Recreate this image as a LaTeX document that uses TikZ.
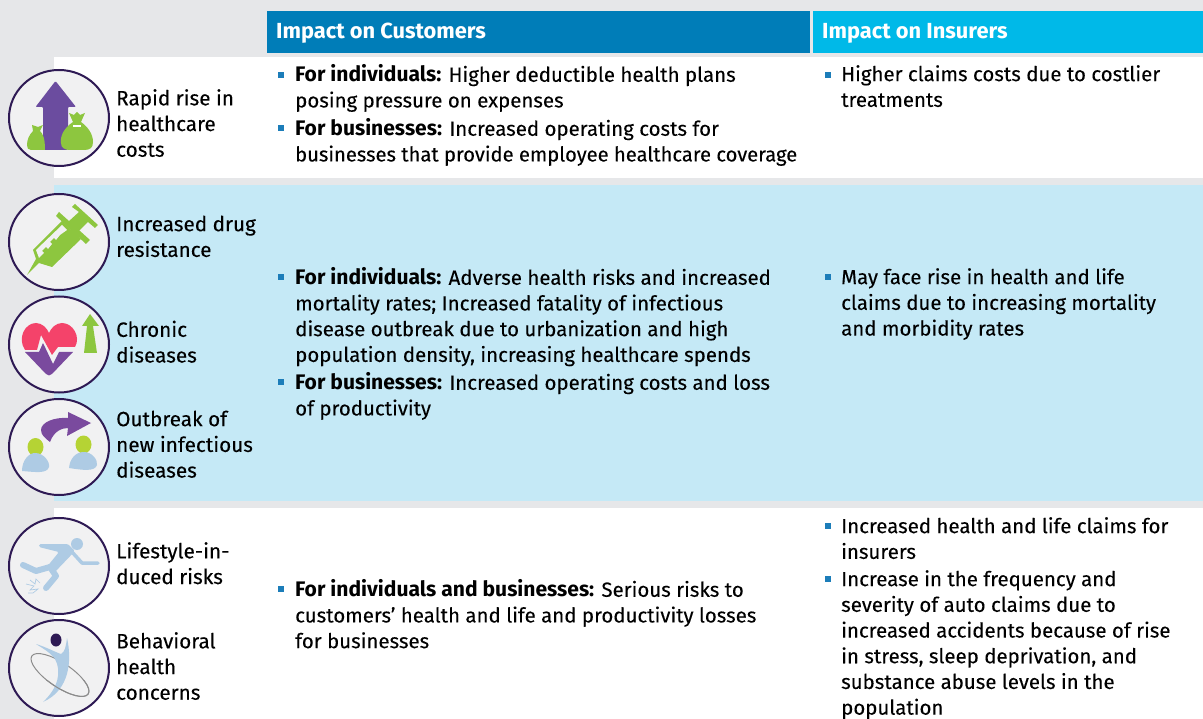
\documentclass[tikz,border=0pt]{standalone}
\usepackage{fontspec}
\usepackage{graphicx}
\usetikzlibrary{shapes.geometric}
\setmainfont{Fira Sans}[BoldFeatures={Scale=1.03},UprightFeatures={FakeBold=0.12}]
\definecolor{pagegrey}{HTML}{E6E7E9}
\definecolor{headdark}{HTML}{007DB8}
\definecolor{headlight}{HTML}{00B9E8}
\definecolor{bandblue}{HTML}{C5E9F6}
\definecolor{ringcol}{HTML}{2E1A54}
\definecolor{ringfill}{HTML}{F1F1F2}
\definecolor{icongreen}{HTML}{8DC63F}
\definecolor{iconpurple}{HTML}{6B4C9F}
\definecolor{iconpink}{HTML}{F4436A}
\definecolor{iconviolet}{HTML}{7A4A9E}
\definecolor{iconlime}{HTML}{B5D334}
\definecolor{iconblue}{HTML}{AECBE4}
\definecolor{bulletcol}{HTML}{1C7DB9}
\tikzset{
  x=1pt,y=-1pt,
  ring/.style={ellipse,draw=ringcol,fill=ringfill,line width=2pt,minimum width=100pt,minimum height=96pt,inner sep=0pt},
  headtext/.style={anchor=base west,text=white,font=\fontsize{21.2}{24}\selectfont\bfseries,inner sep=0pt},
  rowlabel/.style={anchor=north west,align=left,text=black,inner sep=0pt,font=\fontsize{20.7}{25.7}\selectfont},
  bodytext/.style={anchor=north west,align=left,text=black,inner sep=0pt,font=\fontsize{20.45}{25.7}\selectfont},
  bulletmark/.style={fill=bulletcol,minimum size=6.5pt,inner sep=0pt,draw=none,rectangle},
  hoopline/.style={black!45,line width=1pt,rotate around={-34:(60,675)}},
}
\newcommand{\blt}[2]{\node[bulletmark] at (#1,#2) {};}
\begin{document}
\begin{tikzpicture}
\useasboundingbox (0,0) rectangle (1203,719);
\fill[pagegrey] (0,0) rectangle (1203,719);
\fill[headdark] (267,11) rectangle (810,53);
\fill[headlight] (813,11) rectangle (1203,53);
\fill[white] (54,57) rectangle (1203,178);
\fill[bandblue] (54,185) rectangle (1203,501);
\fill[white] (54,508) rectangle (1203,719);
\node[headtext] (hc) at (276,39) {Impact on Customers};
\node[headtext] (hi) at (822,39) {Impact on Insurers};
% rings
\node[ring] (r1) at (59,118) {};
\node[ring] (r2) at (59,242) {};
\node[ring] (r3) at (59,344.5) {};
\node[ring] (r4) at (59,447) {};
\node[ring] (r5) at (59,566) {};
\node[ring] (r6) at (59,668) {};
% icon 1: arrow and bags
\fill[iconpurple,rounded corners=1pt] (55.5,81) -- (76,107) -- (68,107) -- (68,150) -- (43,150) -- (43,107) -- (35.5,107) -- cycle;
\fill[icongreen] (33,131) -- (32,125) -- (38,127) -- (43,125) -- (40,131) .. controls (43,134) and (45,138) .. (45,150) -- (31,150) .. controls (28,150) and (27,148) .. (27,145) .. controls (27,140) and (29,135) .. (33,131) -- cycle;
\fill[icongreen] (73,122) -- (69,113) -- (74,115) -- (77,112) -- (80,115) -- (85,113) -- (81,122) .. controls (88,127) and (93,134) .. (93,142) .. controls (93,148) and (90,150) .. (84,150) -- (70,150) .. controls (65,150) and (61,148) .. (61,143) .. controls (60,136) and (64,128) .. (73,122) -- cycle;
\fill[white] (73,125) rectangle (81,127);
% icon 2: syringe
\fill[icongreen] (75,204) -- (98,225) -- (95,228) -- (88,222) -- (78,232) -- (68,222) -- (79,212) -- (72,207) -- cycle;
\fill[icongreen] (59,212) -- (90,240) -- (86,244) -- (56,216) -- cycle;
\fill[icongreen] (62,221) -- (81,239) -- (52,267) -- (39,263) -- (27,275) -- (36,259) -- (33,250) -- cycle;
\fill[ringfill] (62,225) -- (36,250) -- (39,258) -- (44,253) -- (42,251) -- (46,247) -- (48,249) -- (52,244) -- (50,242) -- (54,238) -- (56,240) -- (60,235) -- (67,230) -- cycle;
% icon 3: heart and arrow
\fill[iconpink] (25,350) -- (37,350) -- (41,335) -- (52,355) -- (58,347) -- (75,347) .. controls (81,337) and (73,323) .. (62,323) .. controls (56,323) and (51,328) .. (49,333) .. controls (47,328) and (42,323) .. (36,323) .. controls (25,323) and (17,338) .. (25,350) -- cycle;
\fill[iconviolet] (25,352) -- (39,352) -- (43,343) -- (53,364) -- (59,352) -- (73,352) -- (52,374) .. controls (50,376) and (48,376) .. (46,374) -- cycle;
\fill[icongreen] (90,314) -- (99,326) -- (93,326) -- (97,353) -- (84,353) -- (87,326) -- (82,326) -- cycle;
% icon 4: people and arrow
\fill[iconviolet] (91,423) -- (67,436) -- (68,428) .. controls (62,428) and (54,431) .. (50,442) .. controls (45,438) and (41,435) .. (41,430) .. controls (41,422) and (55,417) .. (68,418) -- (68,412) -- cycle;
\fill[iconlime] (35.5,447) ellipse (8 and 9);
\fill[iconlime] (83.5,444.5) ellipse (8 and 9);
\fill[iconblue] (22,471) .. controls (22,460) and (29,453) .. (35,453) .. controls (44,453) and (50,462) .. (49,467) .. controls (47,474) and (35,472) .. (22,471) -- cycle;
\fill[iconblue] (69,468) .. controls (70,458) and (76,452) .. (84,452) .. controls (92,452) and (98,460) .. (97,465) .. controls (95,472) and (82,470) .. (69,468) -- cycle;
% icon 5: falling figure
\fill[iconblue] (77,544) circle (6);
\fill[iconblue,rounded corners=1.5pt] (39,544) -- (68,544) -- (75,551) -- (54,573) -- (46,568) -- (59,552) -- (39,547) -- cycle;
\draw[iconblue,line width=6pt,line cap=round,line join=round] (50,567) -- (36,571) -- (23,565);
\draw[iconblue,line width=6pt,line cap=round,line join=round] (50,567) -- (56,576) -- (46,588);
\draw[iconblue,line width=3.5pt,line cap=round,line join=round] (72,552) -- (82,563) -- (98,563);
\draw[iconblue,line width=.7pt] (26,584) -- (34,586) -- (30,590) -- (38,589) -- (33,593) -- (28,593);
\draw[iconblue,line width=.7pt] (30,580) -- (35,584) -- (36,579) -- (40,583);
% icon 6: figure and hoop
\draw[hoopline] (60,675) ellipse (34 and 12);
\fill[iconblue] (36,644) .. controls (46,647) and (55,652) .. (61,654) .. controls (65,652) and (66,646) .. (67,638) .. controls (72,660) and (70,690) .. (43,702) .. controls (58,688) and (62,672) .. (55,659) .. controls (50,652) and (42,648) .. (36,644) -- cycle;
\begin{scope}
\clip (30,680) rectangle (90,700);
\draw[hoopline] (60,675) ellipse (34 and 12);
\end{scope}
\fill[ringcol] (56,640) ellipse (5.5 and 6.5);
% row labels
\node[rowlabel] (l1) at (116,89) {Rapid rise in\\healthcare\\costs};
\node[rowlabel] (l2) at (116,215.5) {Increased drug\\resistance};
\node[rowlabel] (l3) at (116,320.5) {Chronic\\diseases};
\node[rowlabel] (l4) at (116,410.5) {Outbreak of\\new infectious\\diseases};
\node[rowlabel] (l5) at (116,542) {Lifestyle-in-\\duced risks};
\node[rowlabel] (l6) at (116,632) {Behavioral\\health\\concerns};
% body
\blt{281}{75}
\node[bodytext] (a1) at (295,64.5) {\textbf{For individuals:} Higher deductible health plans\\posing pressure on expenses};
\blt{281}{128}
\node[bodytext] (a2) at (295,118.5) {\textbf{For businesses:} Increased operating costs for\\\resizebox{502pt}{\height}{businesses that provide employee healthcare coverage}};
\blt{828}{75}
\node[bodytext] (b1) at (841,65) {Higher claims costs due to costlier\\treatments};
\blt{281}{277}
\node[bodytext] (a3) at (295,267.5) {\textbf{For individuals:} Adverse health risks and increased\\mortality rates; Increased fatality of infectious\\disease outbreak due to urbanization and high\\population density, increasing healthcare spends};
\blt{281}{382}
\node[bodytext] (a4) at (295,372.5) {\textbf{For businesses:} Increased operating costs and loss\\of productivity};
\blt{828}{277}
\node[bodytext] (b2) at (841,268) {May face rise in health and life\\claims due to increasing mortality\\and morbidity rates};
\blt{281}{589}
\node[bodytext] (a5) at (295,579.5) {\textbf{For individuals and businesses:} Serious risks to\\customers’ health and life and productivity losses\\for businesses};
\blt{828}{526}
\node[bodytext] (b3) at (841,517) {Increased health and life claims for\\insurers};
\blt{828}{579}
\node[bodytext] (b4) at (841,570) {Increase in the frequency and\\severity of auto claims due to\\increased accidents because of rise\\in stress, sleep deprivation, and\\substance abuse levels in the\\population};
\end{tikzpicture}
\end{document}
